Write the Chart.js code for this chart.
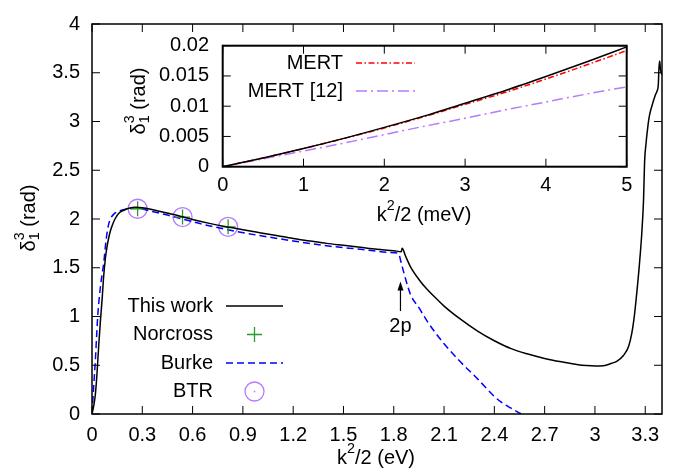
<!DOCTYPE html>
<html lang="en">
<head>
  <meta charset="UTF-8">
  <title>Phase shift</title>
  <script src="https://cdn.jsdelivr.net/npm/chart.js"></script>
  <style>
    body { margin: 0; background: #fff; }
    #wrap { position: relative; width: 678px; height: 472px; }
    #mainChart { position: absolute; left: 0; top: 0; }
    #insetChart { position: absolute; left: 110px; top: 20px; }
  </style>
</head>
<body>
  <div id="wrap">
    <canvas id="mainChart" width="678" height="472"></canvas>
    <canvas id="insetChart" width="540" height="210"></canvas>
  </div>

  <script>
    const FONT = "'Liberation Sans', Arial, sans-serif";

    // main panel: k^2/2 (eV) vs delta (rad)
    const workX = [0, 0.01, 0.02, 0.03, 0.04, 0.05, 0.06, 0.07, 0.08, 0.09, 0.1, 0.11, 0.12, 0.137, 0.16, 0.19, 0.22, 0.26,
      0.3, 0.35, 0.4, 0.5, 0.6, 0.7, 0.8, 0.9, 1.0, 1.1, 1.2, 1.3, 1.4, 1.5, 1.6, 1.7, 1.8, 1.845, 1.85, 1.87, 1.9, 1.95,
      2.0, 2.05, 2.1, 2.2, 2.3, 2.4, 2.5, 2.6, 2.7, 2.8, 2.9, 2.95, 3.0, 3.05, 3.1, 3.13, 3.17, 3.2, 3.22, 3.236, 3.25,
      3.265, 3.28, 3.29, 3.296, 3.305, 3.315, 3.325, 3.345, 3.36, 3.37, 3.378, 3.382, 3.386, 3.39, 3.395, 3.4];
    const workY = [0, 0.08, 0.2, 0.42, 0.7, 0.95, 1.17, 1.42, 1.6, 1.72, 1.81, 1.88, 1.93, 2.0, 2.06, 2.09, 2.11, 2.12,
      2.115, 2.1, 2.08, 2.04, 1.995, 1.955, 1.92, 1.89, 1.86, 1.83, 1.8, 1.775, 1.75, 1.73, 1.71, 1.69, 1.675, 1.665, 1.7, 1.62, 1.51, 1.38,
      1.276, 1.19, 1.107, 0.97, 0.85, 0.751, 0.67, 0.615, 0.57, 0.535, 0.505, 0.497, 0.493, 0.495, 0.52, 0.54, 0.6, 0.69, 0.83, 1.02, 1.25,
      1.53, 1.87, 2.2, 2.58, 2.78, 2.94, 3.06, 3.19, 3.27, 3.31, 3.38, 3.55, 3.62, 3.55, 3.5, 3.48];

    const burkeX = [0, 0.005, 0.01, 0.02, 0.027, 0.034, 0.05, 0.07, 0.085, 0.1, 0.11, 0.13, 0.16, 0.2, 0.27, 0.35, 0.45,
      0.54, 0.65, 0.81, 1.0, 1.2, 1.4, 1.6, 1.8, 1.83, 1.84, 1.86, 1.9, 1.95, 2.0, 2.05, 2.1, 2.2, 2.3, 2.4, 2.45, 2.5, 2.55, 2.56];
    const burkeY = [0, 0.14, 0.28, 0.55, 0.78, 1.0, 1.3, 1.55, 1.8, 1.95, 2.0, 2.05, 2.08, 2.1, 2.11, 2.08, 2.04,
      2.0, 1.95, 1.89, 1.83, 1.775, 1.725, 1.69, 1.655, 1.645, 1.58, 1.45, 1.225, 1.09, 0.95, 0.83, 0.72, 0.53, 0.36, 0.18, 0.11, 0.06, 0.01, 0];

    const norcrossX = [0.272, 0.54, 0.812];
    const norcrossY = [2.105, 2.02, 1.92];
    const btrX = [0.272, 0.54, 0.812];
    const btrY = [2.105, 2.02, 1.92];

    // inset: k^2/2 (meV)
    const insetX = [0, 0.5, 1, 1.5, 2, 2.5, 3, 3.5, 4, 4.5, 5];
    const insetWorkY = [0, 0.00144, 0.003, 0.00468, 0.0065, 0.0084, 0.0105, 0.0126, 0.0149, 0.0173, 0.0198];
    const mertY = [0, 0.00144, 0.003, 0.00466, 0.0064, 0.0083, 0.0103, 0.0123, 0.0145, 0.0168, 0.0192];
    const mert12Y = [0, 0.0013, 0.0026, 0.0039, 0.0053, 0.0067, 0.008, 0.0094, 0.0107, 0.012, 0.0132];

    const mainXTicks = [0, 0.3, 0.6, 0.9, 1.2, 1.5, 1.8, 2.1, 2.4, 2.7, 3, 3.3];
    const mainYTicks = [0, 0.5, 1, 1.5, 2, 2.5, 3, 3.5, 4];
    const insetXTicks = [0, 1, 2, 3, 4, 5];
    const insetYTicks = [0, 0.005, 0.01, 0.015, 0.02];

    const mainLabels = ['This work', 'Norcross', 'Burke', 'BTR'];
    const insetLabels = ['This work', 'MERT', 'MERT [12]'];

    function pts(xs, ys) {
      return xs.map((x, i) => ({ x: x, y: ys[i] }));
    }

    function setTicks(list) {
      return function (scale) { scale.ticks = list.map(v => ({ value: v })); };
    }

    // draws text with gnuplot-like stacked super/subscripts
    function richText(ctx, parts, x, y, size, angle) {
      ctx.save();
      ctx.translate(x, y);
      ctx.rotate(angle || 0);
      ctx.fillStyle = '#000';
      ctx.textBaseline = 'middle';
      ctx.textAlign = 'left';
      const small = size * 0.72;
      const widths = parts.map(p => {
        if (p.t !== undefined) {
          ctx.font = size + 'px ' + FONT;
          return ctx.measureText(p.t).width;
        }
        ctx.font = small + 'px ' + FONT;
        return Math.max(p.sup ? ctx.measureText(p.sup).width : 0, p.sub ? ctx.measureText(p.sub).width : 0);
      });
      let cx = -widths.reduce((a, b) => a + b, 0) / 2;
      parts.forEach((p, i) => {
        if (p.t !== undefined) {
          ctx.font = size + 'px ' + FONT;
          ctx.fillText(p.t, cx, 0);
        } else {
          ctx.font = small + 'px ' + FONT;
          if (p.sup) ctx.fillText(p.sup, cx, -size * 0.45);
          if (p.sub) ctx.fillText(p.sub, cx, size * 0.32);
        }
        cx += widths[i];
      });
      ctx.restore();
    }

    function drawSymbol(ctx, ds, x, y, w) {
      ctx.save();
      ctx.strokeStyle = ds.borderColor;
      ctx.lineWidth = ds.showLine ? ds.borderWidth : ds.pointBorderWidth;
      if (ds.showLine) {
        ctx.setLineDash(ds.borderDash || []);
        ctx.beginPath();
        ctx.moveTo(x - w / 2, y);
        ctx.lineTo(x + w / 2, y);
        ctx.stroke();
      } else if (ds.pointStyle === 'cross') {
        const r = ds.pointRadius;
        ctx.beginPath();
        ctx.moveTo(x - r, y); ctx.lineTo(x + r, y);
        ctx.moveTo(x, y - r); ctx.lineTo(x, y + r);
        ctx.stroke();
      } else {
        ctx.beginPath();
        ctx.arc(x, y, ds.pointRadius, 0, Math.PI * 2);
        ctx.stroke();
        ctx.fillStyle = ds.borderColor;
        ctx.fillRect(x - 0.75, y - 0.75, 1.5, 1.5);
      }
      ctx.restore();
    }

    const framePlugin = {
      id: 'frame',
      beforeDraw(chart, args, o) {
        if (!o.fill) return;
        const a = chart.chartArea;
        chart.ctx.save();
        chart.ctx.fillStyle = '#fff';
        chart.ctx.fillRect(a.left, a.top, a.right - a.left, a.bottom - a.top);
        chart.ctx.restore();
      },
      afterDatasetsDraw(chart, args, o) {
        const { ctx, chartArea: a, scales } = chart;
        ctx.save();
        ctx.strokeStyle = '#000';
        ctx.lineWidth = 1;
        ctx.beginPath();
        scales.x.ticks.forEach(t => {
          const px = scales.x.getPixelForValue(t.value);
          ctx.moveTo(px, a.bottom); ctx.lineTo(px, a.bottom - o.len);
          ctx.moveTo(px, a.top); ctx.lineTo(px, a.top + o.len);
        });
        scales.y.ticks.forEach(t => {
          const py = scales.y.getPixelForValue(t.value);
          ctx.moveTo(a.left, py); ctx.lineTo(a.left + o.len, py);
          ctx.moveTo(a.right, py); ctx.lineTo(a.right - o.len, py);
        });
        ctx.stroke();
        ctx.lineWidth = o.border;
        ctx.strokeRect(a.left, a.top, a.right - a.left, a.bottom - a.top);
        (o.titles || []).forEach(tt => richText(ctx, tt.parts, tt.x, tt.y, tt.size, tt.angle));
        ctx.restore();
      },
      afterDraw(chart, args, o) {
        const lg = o.legend;
        if (!lg) return;
        const ctx = chart.ctx;
        ctx.save();
        ctx.font = '20px ' + FONT;
        ctx.fillStyle = '#000';
        ctx.textAlign = 'right';
        ctx.textBaseline = 'middle';
        lg.items.forEach((di, row) => {
          const ds = chart.data.datasets[di];
          const y = lg.top + row * lg.rowH;
          ctx.fillText(ds.label, lg.right, y);
          drawSymbol(ctx, ds, lg.right + lg.gap + lg.sampleW / 2, y, lg.sampleW);
        });
        ctx.restore();
        const ar = o.arrow;
        if (ar) {
          const sx = chart.scales.x, sy = chart.scales.y;
          const x = sx.getPixelForValue(ar.x);
          const y0 = sy.getPixelForValue(ar.from), y1 = sy.getPixelForValue(ar.to);
          ctx.save();
          ctx.strokeStyle = '#000';
          ctx.fillStyle = '#000';
          ctx.lineWidth = 1.2;
          ctx.beginPath(); ctx.moveTo(x, y0); ctx.lineTo(x, y1 + 4); ctx.stroke();
          ctx.beginPath(); ctx.moveTo(x, y1); ctx.lineTo(x - 3, y1 + 9); ctx.lineTo(x + 3, y1 + 9); ctx.closePath(); ctx.fill();
          ctx.font = '20px ' + FONT;
          ctx.textAlign = 'center';
          ctx.textBaseline = 'middle';
          ctx.fillText(ar.label, x, sy.getPixelForValue(ar.labelY));
          ctx.restore();
        }
      }
    };
    Chart.register(framePlugin);
    Chart.defaults.font.family = FONT;
    Chart.defaults.font.size = 20;
    Chart.defaults.color = '#000';

    const noGrid = { display: false, drawTicks: false };

    new Chart(document.getElementById('mainChart'), {
      type: 'scatter',
      data: {
        datasets: [
          { label: mainLabels[0], data: pts(workX, workY), showLine: true, borderColor: '#000', borderWidth: 1.5,
            pointRadius: 0, cubicInterpolationMode: 'monotone' },
          { label: mainLabels[1], data: pts(norcrossX, norcrossY), showLine: false, pointStyle: 'cross',
            pointRadius: 7.5, pointBorderWidth: 1.3, borderColor: '#2b9a2b', pointBorderColor: '#2b9a2b' },
          { label: mainLabels[2], data: pts(burkeX, burkeY), showLine: true, borderColor: '#0000ff', borderWidth: 1.5,
            borderDash: [7, 4], pointRadius: 0, cubicInterpolationMode: 'monotone' },
          { label: mainLabels[3], data: pts(btrX, btrY), showLine: false, pointStyle: 'circle',
            pointRadius: 9.5, pointBorderWidth: 1.3, borderColor: '#b57bff', pointBorderColor: '#b57bff',
            pointBackgroundColor: 'rgba(0,0,0,0)' }
        ]
      },
      options: {
        responsive: false,
        animation: false,
        devicePixelRatio: 1,
        layout: { padding: { top: 20, right: 16, left: 0, bottom: 0 } },
        scales: {
          x: {
            type: 'linear', min: 0, max: 3.4,
            afterBuildTicks: setTicks(mainXTicks),
            afterFit(scale) { scale.height = 58; },
            grid: noGrid, border: { display: false },
            ticks: { padding: 9, maxRotation: 0, autoSkip: false, callback: v => String(v) }
          },
          y: {
            type: 'linear', min: 0, max: 4,
            afterBuildTicks: setTicks(mainYTicks),
            afterFit(scale) { scale.width = 92; },
            grid: noGrid, border: { display: false },
            ticks: { padding: 12, autoSkip: false, callback: v => String(v) }
          }
        },
        plugins: {
          legend: { display: false },
          tooltip: { enabled: false },
          frame: {
            len: 8, border: 1.5,
            titles: [
              { parts: [{ t: 'k' }, { sup: '2' }, { t: '/2 (eV)' }], x: 376, y: 458, size: 20, angle: 0 },
              { parts: [{ t: 'δ' }, { sup: '3', sub: '1' }, { t: ' (rad)' }], x: 29, y: 218, size: 20, angle: -Math.PI / 2 }
            ],
            legend: { items: [0, 1, 2, 3], right: 213, top: 306, rowH: 28.5, gap: 13, sampleW: 57 },
            arrow: { x: 1.84, from: 1.056, to: 1.36, label: '2p', labelY: 0.9 }
          }
        }
      }
    });

    new Chart(document.getElementById('insetChart'), {
      type: 'scatter',
      data: {
        datasets: [
          { label: insetLabels[0], data: pts(insetX, insetWorkY), showLine: true, borderColor: '#000', borderWidth: 1.5,
            pointRadius: 0, cubicInterpolationMode: 'monotone' },
          { label: insetLabels[1], data: pts(insetX, mertY), showLine: true, borderColor: '#ff0000', borderWidth: 1.5,
            borderDash: [6, 2.5, 1.5, 2.5], pointRadius: 0, cubicInterpolationMode: 'monotone' },
          { label: insetLabels[2], data: pts(insetX, mert12Y), showLine: true, borderColor: '#b57bff', borderWidth: 1.5,
            borderDash: [11, 4, 2, 4], pointRadius: 0, cubicInterpolationMode: 'monotone' }
        ]
      },
      options: {
        responsive: false,
        animation: false,
        devicePixelRatio: 1,
        layout: { padding: { top: 19, right: 23.3, left: 0, bottom: 0 } },
        scales: {
          x: {
            type: 'linear', min: 0, max: 5,
            afterBuildTicks: setTicks(insetXTicks),
            afterFit(scale) { scale.height = 63.3; },
            grid: noGrid, border: { display: false },
            ticks: { padding: 7, maxRotation: 0, autoSkip: false, callback: v => String(v) }
          },
          y: {
            type: 'linear', min: 0, max: 0.02,
            afterBuildTicks: setTicks(insetYTicks),
            afterFit(scale) { scale.width = 112.7; },
            grid: noGrid, border: { display: false },
            ticks: { padding: 13.7, autoSkip: false, callback: v => String(v) }
          }
        },
        plugins: {
          legend: { display: false },
          tooltip: { enabled: false },
          frame: {
            len: 8, border: 2, fill: true,
            titles: [
              { parts: [{ t: 'k' }, { sup: '2' }, { t: '/2 (meV)' }], x: 314, y: 195, size: 20, angle: 0 },
              { parts: [{ t: 'δ' }, { sup: '3', sub: '1' }, { t: ' (rad)' }], x: 29, y: 81, size: 20, angle: -Math.PI / 2 }
            ],
            legend: { items: [1, 2], right: 233, top: 43, rowH: 28, gap: 13, sampleW: 59 }
          }
        }
      }
    });
  </script>
</body>
</html>
